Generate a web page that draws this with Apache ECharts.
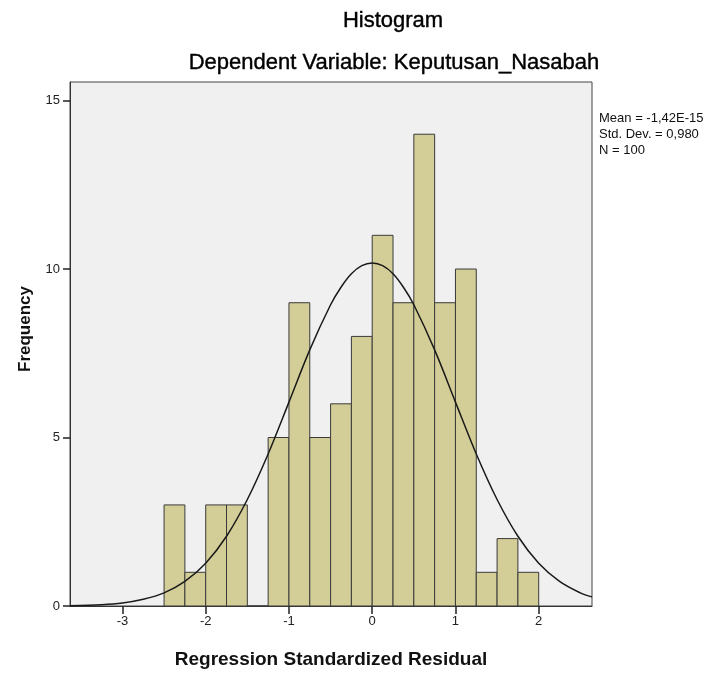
<!DOCTYPE html>
<html>
<head>
<meta charset="utf-8">
<script src="https://cdn.jsdelivr.net/npm/echarts@6/dist/echarts.min.js"></script>
<style>
html,body{margin:0;padding:0;background:#fff;}
#chart{width:716px;height:674px;}
</style>
</head>
<body>
<div id="chart"></div>
<script>
// Histogram bins (width 0.25) and counts
const binStarts = [-2.5, -2.25, -2.0, -1.75, -1.5, -1.25, -1.0, -0.75, -0.5, -0.25, 0.0, 0.25, 0.5, 0.75, 1.0, 1.25, 1.5, 1.75];
const binWidth = 0.25;
const counts   = [3, 1, 3, 3, 0, 5, 9, 5, 6, 8, 11, 9, 14, 9, 10, 1, 2, 1];

// Normal curve
const curveX = [-3.63, -3.25, -3.0, -2.75, -2.5, -2.25, -2.0, -1.75, -1.5, -1.25, -1.0, -0.75, -0.5, -0.375, -0.25, -0.125, 0.0, 0.125, 0.25, 0.375, 0.5, 0.75, 1.0, 1.25, 1.5, 1.75, 2.0, 2.25, 2.5, 2.64];
const curveY = [0.01, 0.04, 0.09, 0.20, 0.39, 0.73, 1.27, 2.07, 3.16, 4.51, 6.05, 7.60, 8.94, 9.46, 9.86, 10.10, 10.18, 10.10, 9.86, 9.46, 8.94, 7.60, 6.05, 4.51, 3.16, 2.07, 1.27, 0.73, 0.39, 0.27];

const xTicks = [-3, -2, -1, 0, 1, 2];
const yTicks = [0, 5, 10, 15];

const titleText = 'Histogram';
const subtitleText = 'Dependent Variable: Keputusan_Nasabah';
const statsLines = ['Mean = -1,42E-15', 'Std. Dev. = 0,980', 'N = 100'];
const xName = 'Regression Standardized Residual';
const yName = 'Frequency';

const FONT = '"Liberation Sans", Arial, sans-serif';

const barData = binStarts.map((s, i) => [s, s + binWidth, counts[i]]);
const curveData = curveX.map((x, i) => [x, curveY[i]]);

const chart = echarts.init(document.getElementById('chart'), null, {renderer: 'canvas'});
chart.setOption({
  animation: false,
  backgroundColor: '#ffffff',
  textStyle: {fontFamily: FONT},
  grid: {
    left: 70, right: 124, top: 82, bottom: 67,
    show: true, backgroundColor: '#F0F0F0', borderColor: '#444', borderWidth: 1
  },
  xAxis: {
    type: 'value', min: -3.63, max: 2.64,
    name: xName, nameLocation: 'middle', nameGap: 44,
    nameTextStyle: {fontFamily: FONT, fontSize: 19, fontWeight: 'bold', color: '#111'},
    axisLine: {show: true, onZero: false, lineStyle: {color: '#333', width: 1}},
    axisTick: {show: true, inside: false, customValues: xTicks, length: 8, lineStyle: {color: '#222', width: 1.5}},
    axisLabel: {customValues: xTicks, fontFamily: FONT, fontSize: 13, color: '#222', margin: 9},
    splitLine: {show: false}
  },
  yAxis: {
    type: 'value', min: 0, max: 15.55,
    axisLine: {show: true, onZero: false, lineStyle: {color: '#333', width: 1}},
    axisTick: {show: true, inside: false, customValues: yTicks, length: 7, lineStyle: {color: '#222', width: 1.5}},
    axisLabel: {customValues: yTicks, fontFamily: FONT, fontSize: 13, color: '#222', margin: 10},
    splitLine: {show: false}
  },
  series: [
    {
      type: 'custom',
      data: barData,
      renderItem: function (params, api) {
        const p0 = api.coord([api.value(0), api.value(2)]);
        const p1 = api.coord([api.value(1), 0]);
        return {
          type: 'rect',
          shape: {x: p0[0], y: p0[1], width: p1[0] - p0[0], height: p1[1] - p0[1]},
          style: {fill: '#D3CE97', stroke: '#3a3a3a', lineWidth: 1}
        };
      },
      encode: {x: [0, 1], y: 2},
      z: 2
    },
    {
      type: 'line',
      data: curveData,
      smooth: 0.35,
      showSymbol: false,
      lineStyle: {color: '#1a1a1a', width: 1.5},
      z: 3
    }
  ],
  graphic: [
    {
      type: 'text', x: 393, y: 21,
      style: {text: titleText, font: '22px ' + FONT, fill: '#000', textAlign: 'center', textVerticalAlign: 'middle', stroke: '#000', lineWidth: 0.4}
    },
    {
      type: 'text', x: 394, y: 63,
      style: {text: subtitleText, font: '22px ' + FONT, fill: '#000', textAlign: 'center', textVerticalAlign: 'middle', stroke: '#000', lineWidth: 0.4}
    },
    {
      type: 'text', x: 599, y: 110,
      style: {text: statsLines.join('\n'), font: '13px ' + FONT, fill: '#111', lineHeight: 16, textAlign: 'left', textVerticalAlign: 'top'}
    },
    {
      type: 'text', x: 25, y: 329, rotation: Math.PI / 2,
      style: {text: yName, font: 'bold 17px ' + FONT, fill: '#111', textAlign: 'center', textVerticalAlign: 'middle'}
    }
  ]
});
</script>
</body>
</html>
